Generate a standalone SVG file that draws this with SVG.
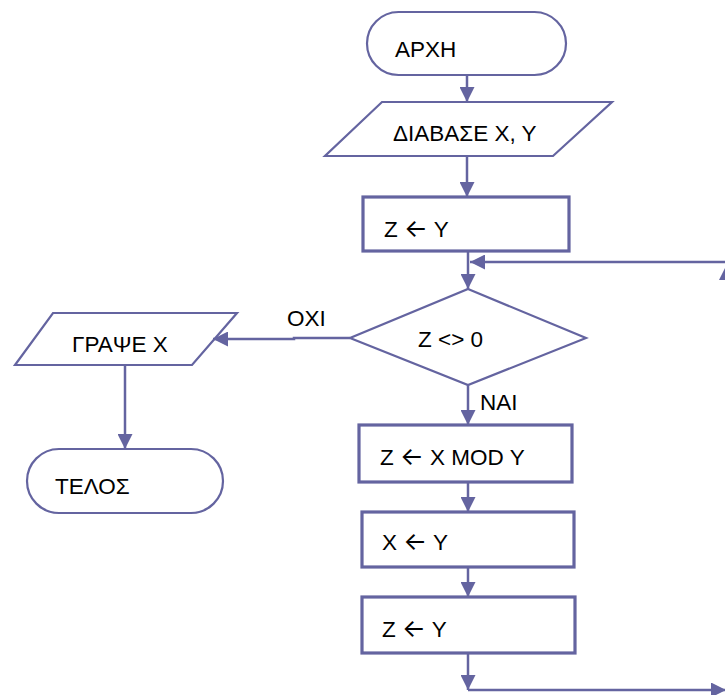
<svg xmlns="http://www.w3.org/2000/svg" width="725" height="695" viewBox="0 0 725 695">
<style>
.s{fill:#fff;stroke:#6464a0;stroke-width:2.2}
.r{fill:#fff;stroke:#6464a0;stroke-width:3.2}
.c{fill:none;stroke:#6464a0;stroke-width:2.5}
.t{font-family:"Liberation Sans",Arial,sans-serif;font-size:22.5px;fill:#000}
.ar{font-family:Inter,"DejaVu Sans",sans-serif;font-size:25px}
</style>
<defs>
<marker id="a" viewBox="0 0 10 10" refX="10" refY="5" markerWidth="6.4" markerHeight="6" markerUnits="strokeWidth" orient="auto">
<path d="M0,0 L10,5 L0,10 z" fill="#6464a0"/>
</marker>
</defs>
<g id="start"><rect class="s" x="367" y="12" width="199" height="63" rx="31.5"/><text class="t" x="395" y="57">ΑΡΧΗ</text></g>
<g id="read"><polygon class="s" points="382,102 612,102 553,156 325,156"/><text class="t" x="393" y="141">ΔΙΑΒΑΣΕ Χ, Υ</text></g>
<g id="assign1"><rect class="r" x="363" y="197" width="206" height="54"/><text class="t" x="384" y="237">Z <tspan class="ar">←</tspan> Y</text></g>
<g id="cond"><polygon class="s" points="468,289 586,338 468,385 350,338"/><text class="t" x="418" y="347">Z &lt;&gt; 0</text></g>
<g id="mod"><rect class="r" x="359" y="425" width="213" height="57"/><text class="t" x="380" y="465">Z <tspan class="ar">←</tspan> X MOD Y</text></g>
<g id="assign2"><rect class="r" x="362" y="512" width="212" height="55"/><text class="t" x="382" y="550">X <tspan class="ar">←</tspan> Y</text></g>
<g id="assign3"><rect class="r" x="362" y="597" width="213" height="56"/><text class="t" x="382" y="637">Z <tspan class="ar">←</tspan> Y</text></g>
<g id="write"><polygon class="s" points="53,313 237,313 192,365 15,365"/><text class="t" x="72" y="352">ΓΡΑΨΕ Χ</text></g>
<g id="end"><rect class="s" x="27" y="449" width="196" height="64" rx="32"/><text class="t" x="55" y="494">ΤΕΛΟΣ</text></g>
<g id="connectors">
<path class="c" d="M467,75 V102" marker-end="url(#a)"/>
<path class="c" d="M467,156 V197" marker-end="url(#a)"/>
<path class="c" d="M468,251 V289" marker-end="url(#a)"/>
<path class="c" d="M725,262 H470" marker-end="url(#a)"/>
<path class="c" d="M350,338 H294 V339 H213" marker-end="url(#a)"/>
<path class="c" d="M468,385 V425" marker-end="url(#a)"/>
<path class="c" d="M468,482 V512" marker-end="url(#a)"/>
<path class="c" d="M468,567 V597" marker-end="url(#a)"/>
<path class="c" d="M468,653 V690" marker-end="url(#a)"/>
<path class="c" d="M468,690 H726" marker-end="url(#a)"/>
<path class="c" d="M125,365 V449" marker-end="url(#a)"/>
<polygon points="719,280 726,266 733,280" fill="#6464a0"/>
<text class="t" x="287" y="326">ΟΧΙ</text>
<text class="t" x="480" y="410">ΝΑΙ</text>
</g>
</svg>
